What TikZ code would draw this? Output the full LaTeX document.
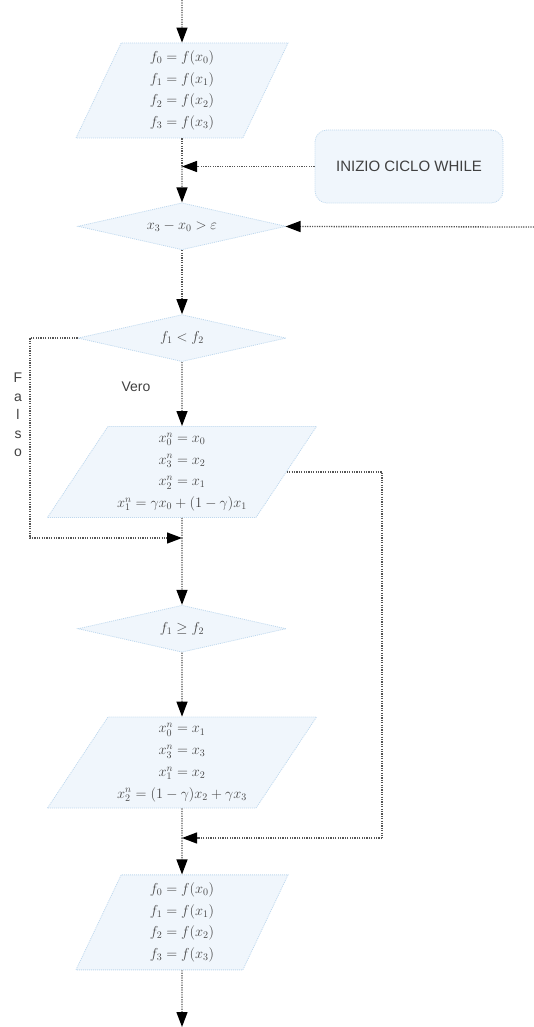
\documentclass[tikz,border=0pt]{standalone}
\usepackage{amsmath,amssymb}
\usepackage{fontspec}
\setsansfont{Liberation Sans}
\usetikzlibrary{arrows.meta,positioning,shapes.geometric}
\definecolor{cFill}{RGB}{240,246,252}
\definecolor{cEdge}{RGB}{190,216,238}
\definecolor{cLine}{RGB}{85,85,85}
\definecolor{cText}{RGB}{70,70,70}
\newcommand{\mathsz}{\fontsize{14.5}{21.7}\selectfont}
\tikzset{
	iobox/.style={trapezium, trapezium stretches body, draw=cEdge,
		dash pattern=on 1pt off 1pt, line width=0.8pt, fill=cFill,
		text=cText, align=center, font=\mathsz, inner sep=1pt},
	ioA/.style={iobox, trapezium left angle=61, trapezium right angle=119,
		minimum width=212pt, minimum height=95pt},
	ioB/.style={iobox, trapezium left angle=53, trapezium right angle=127,
		minimum width=269pt, minimum height=91pt},
	test/.style={diamond, aspect=4.4, draw=cEdge, dash pattern=on 1pt off 1pt,
		line width=0.8pt, fill=cFill, text=cText, font=\mathsz, inner sep=1pt,
		minimum width=208pt, minimum height=47pt},
	note/.style={draw=cEdge, dash pattern=on 1pt off 1pt, line width=0.8pt,
		rounded corners=12pt, fill=cFill, text=black!75,
		font=\sffamily\fontsize{15}{18}\selectfont,
		minimum width=188pt, minimum height=73pt},
	lbl/.style={text=black!75, font=\sffamily\fontsize{14}{18.5}\selectfont,
		align=center, inner sep=0pt},
	flow/.style={-{Triangle[length=15pt,width=11pt,color=black]},
		line width=1.3pt, draw=cLine, dash pattern=on 1.2pt off 1.2pt},
	link/.style={line width=1.3pt, draw=cLine, dash pattern=on 1.2pt off 1.2pt},
}

\begin{document}
\begin{tikzpicture}[x=1pt, y=1pt, node distance=64pt]
	\useasboundingbox (0,0) rectangle (534,-1027);
	% main column
	\node[ioA] (p1) at (182,-90.5)
		{$f_0 = f(x_0)$\\$f_1 = f(x_1)$\\$f_2 = f(x_2)$\\$f_3 = f(x_3)$};
	\node[test, below=of p1] (d1) {$x_3 - x_0 > \varepsilon$};
	\node[test, below=of d1] (d2) {$f_1 < f_2$};
	\node[ioB, below=of d2] (p2)
		{$x_0^n = x_0$\\$x_3^n = x_2$\\$x_2^n = x_1$\\$x_1^n = \gamma x_0 + (1-\gamma) x_1$};
	\node[test, below=87pt of p2] (d3) {$f_1 \geq f_2$};
	\node[ioB, below=of d3] (p3)
		{$x_0^n = x_1$\\$x_3^n = x_3$\\$x_1^n = x_2$\\$x_2^n = (1-\gamma) x_2 + \gamma x_3$};
	\node[ioA, below=66pt of p3] (p4)
		{$f_0 = f(x_0)$\\$f_1 = f(x_1)$\\$f_2 = f(x_2)$\\$f_3 = f(x_3)$};
	\node[note] (while) at (409,-166.5) {INIZIO CICLO WHILE};
	\node[lbl] (vero) at (136,-387) {Vero};
	\node[lbl] (falso) at (18,-415) {F\\a\\l\\s\\o};
	% joints and free ends
	\coordinate (top) at (182,0);
	\coordinate (bot) at (182,-1027);
	\coordinate (back) at (534,-227);
	\coordinate (m1) at (182,-166.5);
	\coordinate (m2) at (182,-538);
	\coordinate (m3) at (182,-838);
	\coordinate (fl) at (30,0);
	\coordinate (fr) at (382,0);
	% connectors
	\draw[flow] (top) -- (p1);
	\draw[link] (p1) -- (m1);
	\draw[flow] (while) -- (m1);
	\draw[flow] (m1) -- (d1);
	\draw[flow] (back) -- (d1);
	\draw[flow] (d1) -- (d2);
	\draw[flow] (d2) -- (p2);
	\draw[flow] (d2.west) -- (d2.west -| fl) -- (fl |- m2) -- (m2);
	\draw[link] (p2) -- (m2);
	\draw[link] (p2.east) -- (p2.east -| fr) -- (fr |- m3);
	\draw[flow] (fr |- m3) -- (m3);
	\draw[flow] (m2) -- (d3);
	\draw[flow] (d3) -- (p3);
	\draw[link] (p3) -- (m3);
	\draw[flow] (m3) -- (p4);
	\draw[flow] (p4) -- (bot);
\end{tikzpicture}
\end{document}
